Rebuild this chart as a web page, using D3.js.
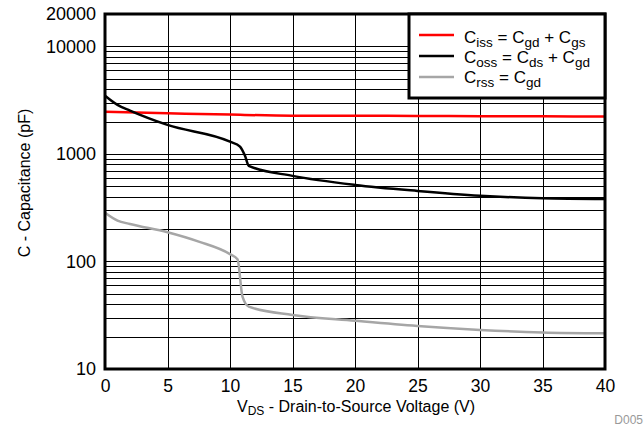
<!DOCTYPE html>
<html>
<head>
<meta charset="utf-8">
<script src="https://cdn.jsdelivr.net/npm/d3@7"></script>
<style>
  body { margin: 0; background: #fff; }
  svg { display: block; font-family: "Liberation Sans", Arial, sans-serif; }
</style>
</head>
<body>
<svg id="chart" width="644" height="427"></svg>
<script>
// values (pF vs V)
const vdsCiss = [0, 5, 10, 15, 20, 25, 30, 35, 40];
const ciss = [2470, 2390, 2320, 2270, 2265, 2255, 2245, 2235, 2225];

const vdsCoss = [0, 1, 2, 5, 10, 10.8, 11.2, 11.5, 15, 20, 25, 30, 35, 40];
const coss = [3480, 2860, 2530, 1860, 1300, 1170, 960, 775, 625, 515, 453, 409, 387, 381];

const vdsCrss = [0, 1, 2, 5, 7.5, 10, 10.6, 11, 11.5, 15, 20, 25, 30, 35, 40];
const crss = [284, 240, 223, 187, 153, 117, 105, 47, 38, 31.8, 28.1, 25.1, 23.1, 21.9, 21.5];

const xTicks = [0, 5, 10, 15, 20, 25, 30, 35, 40];
const yTicks = [10, 100, 1000, 10000, 20000];

const series = [
  { name: "Ciss", x: vdsCiss, y: ciss, color: "#ff0000", label: [["C", ""], ["iss", "sub"], [" = C", ""], ["gd", "sub"], [" + C", ""], ["gs", "sub"]] },
  { name: "Coss", x: vdsCoss, y: coss, color: "#000000", label: [["C", ""], ["oss", "sub"], [" = C", ""], ["ds", "sub"], [" + C", ""], ["gd", "sub"]] },
  { name: "Crss", x: vdsCrss, y: crss, color: "#a6a6a6", label: [["C", ""], ["rss", "sub"], [" = C", ""], ["gd", "sub"]] }
];

const svg = d3.select("#chart");
const m = { left: 105, right: 605, top: 14, bottom: 369 };

const x = d3.scaleLinear().domain([0, 40]).range([m.left, m.right]);
const y = d3.scaleLog().domain([10, 20000]).range([m.bottom, m.top]);

// grid
const grid = svg.append("g");
const minor = [];
for (let d = 10; d <= 10000; d *= 10) {
  for (let k = 1; k <= 9; k++) minor.push(d * k);
}
minor.push(20000);
grid.selectAll("line.h").data(minor.filter(v => v > 10 && v < 20000)).join("line")
  .attr("x1", m.left).attr("x2", m.right)
  .attr("y1", d => Math.round(y(d)) + 0.5).attr("y2", d => Math.round(y(d)) + 0.5)
  .attr("stroke", "#000").attr("stroke-width", 1);
grid.selectAll("line.v").data(xTicks.slice(1, -1)).join("line")
  .attr("y1", m.top).attr("y2", m.bottom)
  .attr("x1", d => Math.round(x(d)) + 0.5).attr("x2", d => Math.round(x(d)) + 0.5)
  .attr("stroke", "#000").attr("stroke-width", 1);

// curves
const line = d3.line().curve(d3.curveMonotoneX);
series.forEach(s => {
  svg.append("path")
    .attr("d", line(s.x.map((v, i) => [x(v), y(s.y[i])])))
    .attr("fill", "none")
    .attr("stroke", s.color)
    .attr("stroke-width", 2.5);
});

// frame
svg.append("rect")
  .attr("x", m.left).attr("y", m.top)
  .attr("width", m.right - m.left).attr("height", m.bottom - m.top)
  .attr("fill", "none").attr("stroke", "#000").attr("stroke-width", 3);

// axes tick labels
const xAxis = svg.append("g").attr("transform", `translate(0,${m.bottom})`)
  .call(d3.axisBottom(x).tickValues(xTicks).tickSize(0).tickPadding(11).tickFormat(d3.format("d")));
xAxis.select(".domain").remove();
xAxis.selectAll("text").attr("font-size", 17.5).attr("font-family", "Liberation Sans, Arial, sans-serif").attr("fill", "#000");

const yAxis = svg.append("g").attr("transform", `translate(${m.left},0)`)
  .call(d3.axisLeft(y).tickValues(yTicks).tickSize(0).tickPadding(9).tickFormat(d3.format("d")));
yAxis.select(".domain").remove();
yAxis.selectAll("text").attr("font-size", 18).attr("font-family", "Liberation Sans, Arial, sans-serif").attr("fill", "#000");

// axis titles
const xt = svg.append("text").attr("x", 356).attr("y", 411.5)
  .attr("text-anchor", "middle").attr("font-size", 16);
xt.append("tspan").text("V");
xt.append("tspan").text("DS").attr("font-size", 12).attr("dy", 3);
xt.append("tspan").text(" - Drain-to-Source Voltage (V)").attr("dy", -3);

svg.append("text")
  .attr("transform", "translate(30,183) rotate(-90)")
  .attr("text-anchor", "middle").attr("font-size", 16)
  .text("C - Capacitance (pF)");

svg.append("text").attr("x", 643).attr("y", 424).attr("text-anchor", "end")
  .attr("font-size", 12).attr("fill", "#999").text("D005");

// legend
const lg = svg.append("g");
lg.append("rect").attr("x", 409).attr("y", m.top).attr("width", m.right - 409).attr("height", 98 - m.top)
  .attr("fill", "#fff").attr("stroke", "#000").attr("stroke-width", 3);
series.forEach((s, i) => {
  const ly = 35 + i * 21;
  lg.append("line").attr("x1", 419).attr("x2", 454).attr("y1", ly).attr("y2", ly)
    .attr("stroke", s.color).attr("stroke-width", 2.5);
  const t = lg.append("text").attr("x", 464).attr("y", 43 + i * 20).attr("font-size", 17);
  let shifted = false;
  s.label.forEach(([txt, kind]) => {
    const ts = t.append("tspan").text(txt);
    if (kind === "sub" && !shifted) { ts.attr("dy", 4).attr("font-size", 13.5); shifted = true; }
    else if (kind === "sub") { ts.attr("font-size", 13.5); }
    else if (shifted) { ts.attr("dy", -4); shifted = false; }
  });
});
</script>
</body>
</html>
